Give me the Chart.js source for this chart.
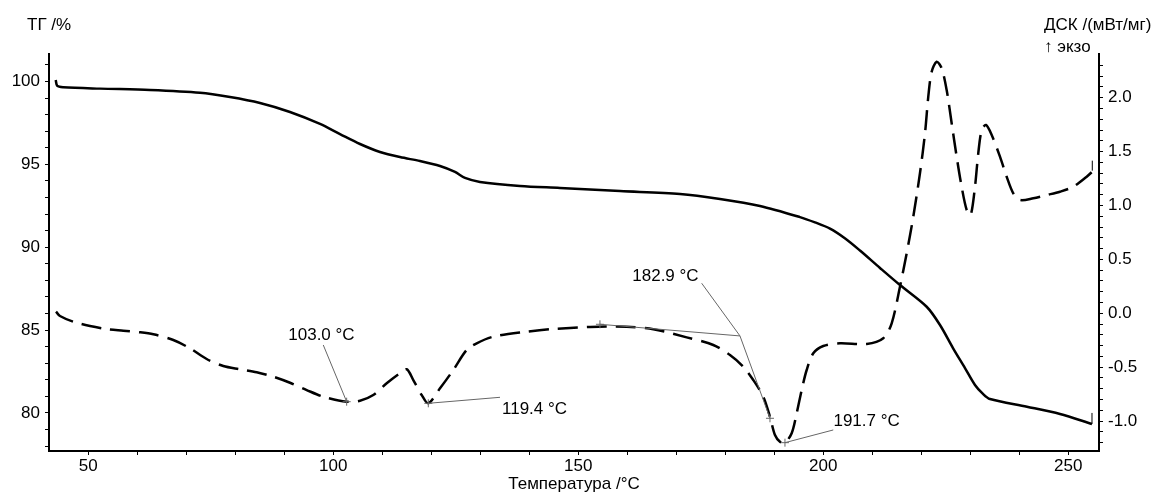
<!DOCTYPE html>
<html>
<head>
<meta charset="utf-8">
<script src="https://cdn.jsdelivr.net/npm/chart.js@4/dist/chart.umd.min.js"></script>
<style>
html,body{margin:0;padding:0;background:#fff;}
canvas{display:block;}
</style>
</head>
<body>
<canvas id="c" width="1156" height="495"></canvas>
<script>
// ---- Data ----
const tgTemperature = [43.35,43.67,44.9,52.39,62.59,72.8,78.92,85.04,91.16,97.29,101.37,105.45,109.53,113.61,117.69,121.78,124.84,126.88,129.94,138.1,146.27,158.51,170.76,178.92,187.08,195.24,198.3,201.37,204.4,207.49,211.57,215.65,221.1,223.82,226.47,228.92,230.96,232.59,234.02,241.57,248.31,254.84];
const tgPercent = [100.09,99.73,99.65,99.57,99.49,99.32,99.06,98.70,98.16,97.44,96.83,96.23,95.75,95.44,95.20,94.90,94.54,94.18,93.94,93.70,93.58,93.39,93.21,92.91,92.49,91.82,91.50,91.12,90.54,89.80,88.75,87.72,86.41,85.31,83.92,82.71,81.69,81.15,80.84,80.38,79.94,79.34];

const dscTemperature = [43.41,44.22,46.94,50.35,53.76,57.14,60.55,63.27,67.35,70.76,
  74.16,77.55,80.96,84.37,87.76,91.16,94.57,97.96,102.73,105.45,
  108.16,110.9,113.27,114.98,116.33,118.04,119.39,121.78,124.49,127.22,
  129.27,132.65,139.47,144.22,152.4,159.88,165.31,172.12,177.55,180.96,
  183.67,185.71,187.76,189.12,190.14,191.16,192.18,193.55,194.57,195.59,
  196.61,197.96,200.0,203.41,208.86,212.24,213.96,215.65,217.02,218.37,
  219.73,220.76,221.43,222.12,223.14,224.16,225.18,226.2,227.22,228.24,
  229.27,230.08,230.96,231.63,232.33,233.2,234.37,236.06,237.43,238.78,
  240.14,242.86,245.59,248.31,251.02,253.76,254.9];
const dscValue = [0.015,-0.025,-0.078,-0.118,-0.146,-0.161,-0.176,-0.195,-0.248,-0.325,
  -0.424,-0.489,-0.519,-0.547,-0.588,-0.644,-0.712,-0.774,-0.820,-0.811,
  -0.758,-0.649,-0.566,-0.519,-0.619,-0.758,-0.835,-0.696,-0.526,-0.340,
  -0.278,-0.217,-0.171,-0.148,-0.127,-0.124,-0.148,-0.223,-0.294,-0.387,
  -0.495,-0.619,-0.774,-0.960,-1.129,-1.191,-1.200,-1.113,-0.928,-0.712,
  -0.526,-0.371,-0.303,-0.278,-0.285,-0.232,-0.093,0.247,0.557,0.896,
  1.299,1.670,2.009,2.241,2.334,2.273,2.071,1.763,1.453,1.174,
  0.958,0.912,1.174,1.484,1.700,1.747,1.654,1.453,1.267,1.113,
  1.051,1.067,1.097,1.128,1.174,1.267,1.314];

// ticks
const xTickValues = [50,60,70,80,90,100,110,120,130,140,150,160,170,180,190,200,210,220,230,240,250];
const xTickLabels = [50,100,150,200,250];
const tgTickValues = [78,79,80,81,82,83,84,85,86,87,88,89,90,91,92,93,94,95,96,97,98,99,100,101];
const tgTickLabels = [80,85,90,95,100];
const dscTickValues = [-1.2,-1.1,-1.0,-0.9,-0.8,-0.7,-0.6,-0.5,-0.4,-0.3,-0.2,-0.1,0.0,0.1,0.2,0.3,0.4,0.5,0.6,0.7,0.8,0.9,1.0,1.1,1.2,1.3,1.4,1.5,1.6,1.7,1.8,1.9,2.0,2.1,2.2,2.3];
const dscTickLabels = [-1.0,-0.5,0.0,0.5,1.0,1.5,2.0];

// peak annotations (anchor in data coordinates)
const peakLabels = ['103.0 °C','119.4 °C','182.9 °C','191.7 °C'];
const peakTemps  = [102.73, 119.39, 183.0, 192.18];
const peakValues = [-0.820, -0.835, -0.21, -1.200];
// onset construction for 182.9 °C
const onsetBaseStart = [154.42, -0.102];
const onsetTangentEnd = [189.12, -0.974];

// ---- Styling / layout (not data) ----
const FONT = '"Liberation Sans", Arial, Helvetica, sans-serif';
const FS = 17;
const annLayout = [
  {lead:[-23.4,-56.7], text:[-58.4,-61.2], cross:true},
  {lead:[71.7,-6],     text:[73.7,10.2],   cross:true},
  {lead:[-38.3,-52.7], text:[-107.7,-55.3], cross:false},
  {lead:[48.3,-12.7],  text:[48.5,-16.7],  cross:true}
];

Chart.defaults.font.family = FONT;
Chart.defaults.font.size = FS;
Chart.defaults.color = '#000';

function near(list, v){ return list.some(t => Math.abs(t - v) < 1e-6); }

const annotationPlugin = {
  id: 'annots',
  afterDatasetsDraw(chart) {
    const ctx = chart.ctx;
    const xs = chart.scales.x, ys = chart.scales.y2, yt = chart.scales.y;
    ctx.save();
    ctx.strokeStyle = '#666';
    ctx.lineWidth = 1;
    const cross = (px, py) => {
      ctx.beginPath();
      ctx.moveTo(px - 4, py); ctx.lineTo(px + 4, py);
      ctx.moveTo(px, py - 4); ctx.lineTo(px, py + 4);
      ctx.stroke();
    };
    // onset construction lines
    const ix = xs.getPixelForValue(peakTemps[2]), iy = ys.getPixelForValue(peakValues[2]);
    const bx = xs.getPixelForValue(onsetBaseStart[0]), by = ys.getPixelForValue(onsetBaseStart[1]);
    const tx = xs.getPixelForValue(onsetTangentEnd[0]), ty = ys.getPixelForValue(onsetTangentEnd[1]);
    ctx.beginPath();
    ctx.moveTo(bx, by); ctx.lineTo(ix, iy); ctx.lineTo(tx, ty);
    ctx.stroke();
    cross(bx, by); cross(tx, ty);

    ctx.font = FS + 'px ' + FONT;
    ctx.textBaseline = 'alphabetic';
    ctx.textAlign = 'left';
    peakLabels.forEach((lab, i) => {
      const ax = xs.getPixelForValue(peakTemps[i]);
      const ay = ys.getPixelForValue(peakValues[i]);
      const L = annLayout[i];
      ctx.strokeStyle = '#666';
      ctx.beginPath();
      ctx.moveTo(ax, ay); ctx.lineTo(ax + L.lead[0], ay + L.lead[1]);
      ctx.stroke();
      if (L.cross) cross(ax, ay);
      ctx.fillStyle = '#000';
      ctx.fillText(lab, ax + L.text[0], ay + L.text[1]);
    });

    // end-of-curve markers
    ctx.strokeStyle = '#000';
    ctx.lineWidth = 1;
    const tgEx = xs.getPixelForValue(tgTemperature[tgTemperature.length-1]);
    const tgEy = yt.getPixelForValue(tgPercent[tgPercent.length-1]);
    ctx.beginPath(); ctx.moveTo(tgEx, tgEy); ctx.lineTo(tgEx, tgEy - 11); ctx.stroke();
    const dEx = xs.getPixelForValue(dscTemperature[dscTemperature.length-1]);
    const dEy = ys.getPixelForValue(dscValue[dscValue.length-1]);
    ctx.beginPath(); ctx.moveTo(dEx, dEy - 1); ctx.lineTo(dEx, dEy - 11); ctx.stroke();
    ctx.restore();
  },
  afterDraw(chart) {
    const ctx = chart.ctx;
    ctx.save();
    ctx.font = FS + 'px ' + FONT;
    ctx.fillStyle = '#000';
    ctx.textAlign = 'left';
    ctx.textBaseline = 'alphabetic';
    ctx.fillText('ТГ /%', 27, 29.5);
    ctx.fillText('ДСК /(мВт/мг)', 1044, 29.5);
    ctx.fillText('↑ экзо', 1044, 51.5);
    ctx.restore();
  }
};

const axisGrid = {display: true, drawOnChartArea: false, drawTicks: true, tickLength: 4, tickColor: '#000', tickWidth: 1};
const axisBorder = {display: true, color: '#000', width: 2};

new Chart(document.getElementById('c'), {
  type: 'line',
  data: {
    datasets: [
      {
        label: 'ТГ',
        data: tgTemperature.map((t, i) => ({x: t, y: tgPercent[i]})),
        yAxisID: 'y',
        borderColor: '#000',
        borderWidth: 2.5,
        pointRadius: 0,
        tension: 0.3,
        fill: false
      },
      {
        label: 'ДСК',
        data: dscTemperature.map((t, i) => ({x: t, y: dscValue[i]})),
        yAxisID: 'y2',
        borderColor: '#000',
        borderWidth: 2.5,
        borderDash: [20, 9],
        pointRadius: 0,
        tension: 0.3,
        fill: false
      }
    ]
  },
  options: {
    responsive: false,
    animation: false,
    devicePixelRatio: 1,
    events: [],
    layout: {padding: {top: 54, left: 0, right: 0, bottom: 0}},
    plugins: {legend: {display: false}, tooltip: {enabled: false}},
    scales: {
      x: {
        type: 'linear',
        min: 41.98, max: 256.27,
        afterBuildTicks: s => { s.ticks = xTickValues.map(v => ({value: v})); },
        afterFit: s => { s.height = 44; },
        ticks: {padding: 1, autoSkip: false, maxRotation: 0,
          callback: v => near(xTickLabels, v) ? String(v) : ''},
        grid: axisGrid,
        border: axisBorder,
        title: {display: true, text: 'Температура /°C', padding: {top: 0, bottom: 0}, font: {size: FS}}
      },
      y: {
        type: 'linear', position: 'left',
        min: 77.707, max: 101.659,
        afterBuildTicks: s => { s.ticks = tgTickValues.map(v => ({value: v})); },
        afterFit: s => { s.width = 49; },
        ticks: {padding: 5, autoSkip: false,
          callback: v => near(tgTickLabels, v) ? String(v) : ''},
        grid: axisGrid,
        border: axisBorder
      },
      y2: {
        type: 'linear', position: 'right',
        min: -1.2774, max: 2.4054,
        afterBuildTicks: s => { s.ticks = dscTickValues.map(v => ({value: v})); },
        afterFit: s => { s.width = 57; },
        ticks: {padding: 5, autoSkip: false,
          callback: v => near(dscTickLabels, v) ? Number(v).toFixed(1) : ''},
        grid: axisGrid,
        border: axisBorder
      }
    }
  },
  plugins: [annotationPlugin]
});
</script>
</body>
</html>
